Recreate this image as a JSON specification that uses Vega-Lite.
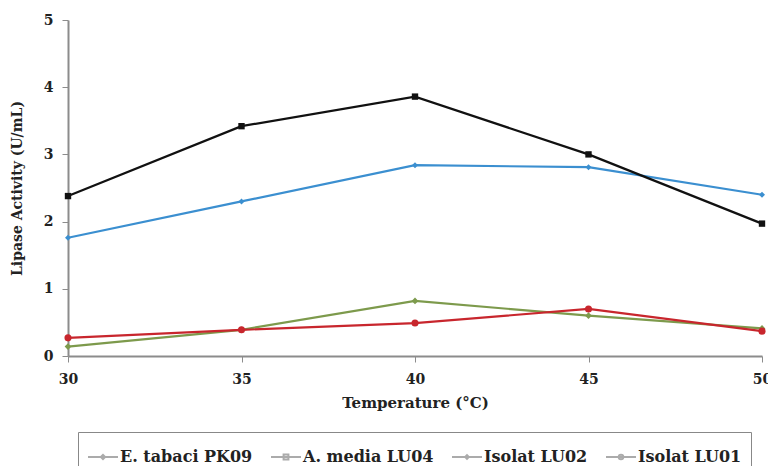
{
  "$schema": "https://vega.github.io/schema/vega-lite/v6.json",
  "width": 694,
  "height": 336,
  "autosize": {"type": "none"},
  "padding": {"left": 68, "top": 20, "right": 6, "bottom": 110},
  "background": "white",
  "config": {
    "view": {"stroke": null},
    "font": "DejaVu Serif",
    "axis": {"grid": false, "domainColor": "#8c8c8c", "domainWidth": 2, "tickColor": "#8c8c8c", "tickSize": 6, "tickWidth": 1, "labelFont": "DejaVu Serif", "labelFontWeight": "bold", "labelFontSize": 14, "labelColor": "#222", "titleFont": "DejaVu Serif", "titleFontWeight": "bold", "titleFontSize": 14, "titleColor": "#222"}
  },
  "data": {
    "values": [
      {"series": "E. tabaci PK09", "temp": 30, "act": 1.76},
      {"series": "E. tabaci PK09", "temp": 35, "act": 2.3},
      {"series": "E. tabaci PK09", "temp": 40, "act": 2.84},
      {"series": "E. tabaci PK09", "temp": 45, "act": 2.81},
      {"series": "E. tabaci PK09", "temp": 50, "act": 2.4},
      {"series": "A. media LU04", "temp": 30, "act": 2.38},
      {"series": "A. media LU04", "temp": 35, "act": 3.42},
      {"series": "A. media LU04", "temp": 40, "act": 3.86},
      {"series": "A. media LU04", "temp": 45, "act": 3.0},
      {"series": "A. media LU04", "temp": 50, "act": 1.97},
      {"series": "Isolat LU02", "temp": 30, "act": 0.14},
      {"series": "Isolat LU02", "temp": 35, "act": 0.39},
      {"series": "Isolat LU02", "temp": 40, "act": 0.82},
      {"series": "Isolat LU02", "temp": 45, "act": 0.6},
      {"series": "Isolat LU02", "temp": 50, "act": 0.41},
      {"series": "Isolat LU01", "temp": 30, "act": 0.27},
      {"series": "Isolat LU01", "temp": 35, "act": 0.39},
      {"series": "Isolat LU01", "temp": 40, "act": 0.49},
      {"series": "Isolat LU01", "temp": 45, "act": 0.7},
      {"series": "Isolat LU01", "temp": 50, "act": 0.37}
    ]
  },
  "encoding": {
    "x": {"field": "temp", "type": "quantitative", "scale": {"domain": [30, 50], "nice": false, "zero": false}, "axis": {"values": [30, 35, 40, 45, 50], "title": "Temperature (°C)", "labelPadding": 10, "titlePadding": 9, "titleFontSize": 15, "labelFlush": false}},
    "y": {"field": "act", "type": "quantitative", "scale": {"domain": [0, 5], "nice": false}, "axis": {"values": [0, 1, 2, 3, 4, 5], "title": "Lipase Activity (U/mL)", "labelPadding": 9, "titlePadding": 19}},
    "color": {
      "field": "series", "type": "nominal",
      "scale": {"domain": ["E. tabaci PK09", "A. media LU04", "Isolat LU02", "Isolat LU01"], "range": ["#3b8fd0", "#111111", "#7d9a4c", "#c8262d"]},
      "legend": null
    }
  },
  "resolve": {"scale": {"shape": "independent"}},
  "layer": [
    {"mark": {"type": "line", "strokeWidth": 2.2}, "encoding": {}},
    {
      "mark": {"type": "point", "filled": true, "opacity": 1},
      "encoding": {
        "shape": {"field": "series", "type": "nominal", "scale": {"domain": ["E. tabaci PK09", "A. media LU04", "Isolat LU02", "Isolat LU01"], "range": ["diamond", "square", "diamond", "circle"]}, "legend": null},
        "size": {"field": "series", "type": "nominal", "scale": {"domain": ["E. tabaci PK09", "A. media LU04", "Isolat LU02", "Isolat LU01"], "range": [36, 50, 30, 50]}, "legend": null}
      }
    },
    {
      "transform": [{"filter": "datum.temp < 0"}],
      "mark": {"type": "point", "filled": false, "strokeWidth": 2, "size": 900},
      "encoding": {
        "color": {
          "field": "series", "type": "nominal",
          "legend": {
            "orient": "none", "legendX": 10, "legendY": 412, "direction": "horizontal", "title": null,
            "strokeColor": "#888", "padding": 9, "fillColor": "white",
            "labelFont": "DejaVu Serif", "labelFontWeight": "bold", "labelFontSize": 16, "labelColor": "#222",
            "symbolSize": 900, "symbolStrokeWidth": 2, "columnPadding": 14, "labelOffset": 1, "labelLimit": 300
          }
        },
        "shape": {
          "field": "series", "type": "nominal",
          "scale": {"domain": ["E. tabaci PK09", "A. media LU04", "Isolat LU02", "Isolat LU01"], "range": ["M-1,0H1M-0.14,0L0,-0.14L0.14,0L0,0.14Z", "M-1,0H1M-0.16,-0.16H0.16V0.16H-0.16Z", "M-1,0H1M-0.12,0L0,-0.12L0.12,0L0,0.12Z", "M-1,0H1M-0.15,0A0.15,0.15 0 1,0 0.15,0A0.15,0.15 0 1,0 -0.15,0Z"]},
          "legend": {
            "orient": "none", "legendX": 10, "legendY": 412, "direction": "horizontal", "title": null,
            "strokeColor": "#888", "padding": 9, "fillColor": "white",
            "labelFont": "DejaVu Serif", "labelFontWeight": "bold", "labelFontSize": 16, "labelColor": "#222",
            "symbolSize": 900, "symbolStrokeWidth": 2, "columnPadding": 14, "labelOffset": 1, "labelLimit": 300
          }
        }
      }
    }
  ]
}
